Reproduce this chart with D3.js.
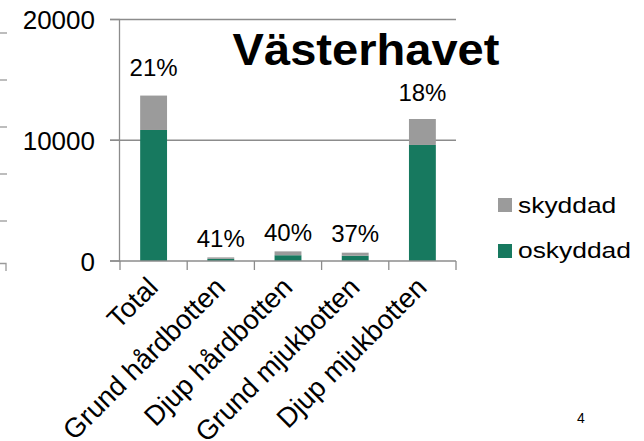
<!DOCTYPE html>
<html><head><meta charset="utf-8">
<script src="https://cdn.jsdelivr.net/npm/d3@7"></script>
<style>body{margin:0;background:#fff}svg{display:block}text{font-family:"Liberation Sans",Arial,sans-serif}</style>
</head><body>
<script>
const categories = ["Total","Grund hårdbotten","Djup hårdbotten","Grund mjukbotten","Djup mjukbotten"];
const oskyddad = [10850, 177, 477, 435, 9610];
const skyddad = [2850, 123, 320, 255, 2150];
const pctLabels = ["21%","41%","40%","37%","18%"];
const yTicks = [0, 10000, 20000];
const seriesNames = ["skyddad","oskyddad"];
const title = "Västerhavet";

const W=644,H=441;
const green="#17795f", gray="#9b9b9b", axisCol="#8c8c8c";
const svg=d3.select("body").append("svg").attr("width",W).attr("height",H);

const x=d3.scaleBand().domain(categories).range([120,456]);
const y=d3.scaleLinear().domain([0,20000]).range([261,19.5]);

// stray partial axis at left edge
const g0=svg.append("g").attr("stroke","#9a9a9a").attr("stroke-width",1.3);
[33,80,127,174,221].forEach(v=>g0.append("line").attr("x1",0).attr("x2",7).attr("y1",v).attr("y2",v));
g0.append("path").attr("d","M0,263.5H6V271").attr("fill","none");

// gridlines
svg.append("g").selectAll("line").data(yTicks.filter(d=>d>0)).join("line")
  .attr("x1",110).attr("x2",456).attr("y1",d=>y(d)).attr("y2",d=>y(d))
  .attr("stroke",axisCol).attr("stroke-width",1.3);

// bars
const bw=x.bandwidth()*0.4;
const stack=categories.map((c,i)=>({c,o:oskyddad[i],s:skyddad[i],p:pctLabels[i]}));
const gb=svg.append("g");
gb.selectAll("rect.o").data(stack).join("rect").attr("class","o")
  .attr("x",d=>x(d.c)+x.bandwidth()/2-bw/2).attr("width",bw)
  .attr("y",d=>y(d.o)).attr("height",d=>y(0)-y(d.o)).attr("fill",green);
gb.selectAll("rect.s").data(stack).join("rect").attr("class","s")
  .attr("x",d=>x(d.c)+x.bandwidth()/2-bw/2).attr("width",bw)
  .attr("y",d=>y(d.o+d.s)).attr("height",d=>y(d.o)-y(d.o+d.s)).attr("fill",gray);

// axes
svg.append("line").attr("x1",119.5).attr("x2",119.5).attr("y1",19).attr("y2",262).attr("stroke",axisCol).attr("stroke-width",1.3);
svg.append("g").selectAll("line").data(yTicks).join("line")
  .attr("x1",110).attr("x2",120).attr("y1",d=>y(d)).attr("y2",d=>y(d)).attr("stroke",axisCol).attr("stroke-width",1.3);
svg.append("line").attr("x1",110).attr("x2",456).attr("y1",y(0)).attr("y2",y(0)).attr("stroke",axisCol).attr("stroke-width",1.3);
const bounds=categories.map(c=>x(c)).concat([456]);
svg.append("g").selectAll("line").data(bounds).join("line")
  .attr("x1",d=>d).attr("x2",d=>d).attr("y1",y(0)).attr("y2",y(0)+9).attr("stroke",axisCol).attr("stroke-width",1.3);

// y tick labels
svg.append("g").selectAll("text").data(yTicks).join("text")
  .attr("x",95).attr("y",d=>y(d)+9.5).attr("text-anchor","end")
  .attr("font-size",26).attr("fill","#000").text(d=>d);

// category labels
svg.append("g").selectAll("text").data(categories).join("text")
  .attr("transform",d=>`translate(${x(d)+x.bandwidth()/2+6},${y(0)+28}) rotate(-45)`)
  .attr("text-anchor","end").attr("font-size",27.5).attr("fill","#000").text(d=>d);

// pct labels
svg.append("g").selectAll("text").data(stack).join("text")
  .attr("x",d=>x(d.c)+x.bandwidth()/2)
  .attr("y",d=>{const t=y(d.o+d.s);return t-10-0.055*(y(0)-t);})
  .attr("text-anchor","middle").attr("font-size",24).attr("fill","#000").text(d=>d.p);

// title
svg.append("text").attr("transform","translate(366,65) scale(1.07,1)").attr("text-anchor","middle")
  .attr("font-size",44).attr("font-weight","bold").attr("fill","#000").text(title);

// legend
const lg=svg.append("g");
seriesNames.forEach((n,i)=>{
  lg.append("rect").attr("x",498).attr("y",198+i*46).attr("width",14).attr("height",14).attr("fill",i===0?gray:green);
  lg.append("text").attr("transform",`translate(518,${213+i*45}) scale(1.2,1)`).attr("font-size",22).attr("fill","#000").text(n);
});

// page number
svg.append("text").attr("x",581).attr("y",423).attr("text-anchor","middle").attr("font-size",14).attr("fill","#000").text("4");
</script>
</body></html>
